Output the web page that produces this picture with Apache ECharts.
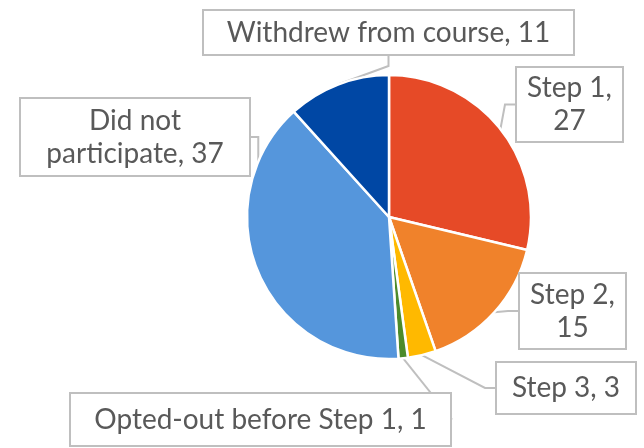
<!DOCTYPE html>
<html>
<head>
<meta charset="utf-8">
<script src="https://cdn.jsdelivr.net/npm/echarts@6/dist/echarts.min.js"></script>
<style>
html,body{margin:0;padding:0;background:#fff;}
#chart{width:644px;height:448px;}
</style>
</head>
<body>
<div id="chart"></div>
<script>
// Data
const categories = ["Step 1", "Step 2", "Step 3", "Opted-out before Step 1", "Did not participate", "Withdrew from course"];
const values = [27, 15, 3, 1, 37, 11];
const colors = ["#E64A27", "#F0822B", "#FFB900", "#4C8B2B", "#5596DC", "#0047A4"];
// label text separators (line break after category for narrow callouts)
const separators = [",\n", ",\n", ", ", ", ", ", ", ", "];
const splitDid = "Did not\nparticipate";

// Callout box layout (center x, center y, width, height)
const boxes = [
  {x: 569.5, y: 104.5, w: 109, h: 77},
  {x: 572.5, y: 311, w: 109, h: 78},
  {x: 566, y: 388, w: 142, h: 54},
  {x: 260.5, y: 419.5, w: 383, h: 55},
  {x: 135, y: 137, w: 232, h: 80},
  {x: 388.5, y: 32.5, w: 373, h: 47}
];

const chart = echarts.init(document.getElementById('chart'), null, {renderer: 'canvas'});

const data = categories.map((c, i) => {
  const b = boxes[i];
  return {
    name: c,
    value: values[i],
    itemStyle: {color: colors[i]},
    label: {
      width: b.w - 4,
      height: b.h - 4,
      padding: 0
    }
  };
});

chart.setOption({
  animation: false,
  backgroundColor: '#fff',
  series: [{
    type: 'pie',
    center: [389, 217],
    radius: 142,
    startAngle: 90,
    clockwise: true,
    data: data,
    itemStyle: {borderColor: '#fff', borderWidth: 2.5},
    label: {
      show: true,
      position: 'outside',
      formatter: (p) => {
        const name = p.name === "Did not participate" ? splitDid : p.name;
        return name + separators[p.dataIndex] + p.value;
      },
      color: '#595959',
      fontFamily: 'Lato, "Open Sans", sans-serif',
      fontSize: 28,
      lineHeight: 33,
      align: 'center',
      verticalAlign: 'middle',
      backgroundColor: '#fff',
      borderColor: '#BFBFBF',
      borderWidth: 2
    },
    labelLine: {
      show: true,
      length: 10,
      length2: 10,
      lineStyle: {color: '#BFBFBF', width: 2}
    },
    labelLayout: (params) => {
      const b = boxes[params.dataIndex];
      return {x: b.x, y: b.y, align: 'center', verticalAlign: 'middle', moveOverlap: null};
    }
  }]
});
</script>
</body>
</html>
